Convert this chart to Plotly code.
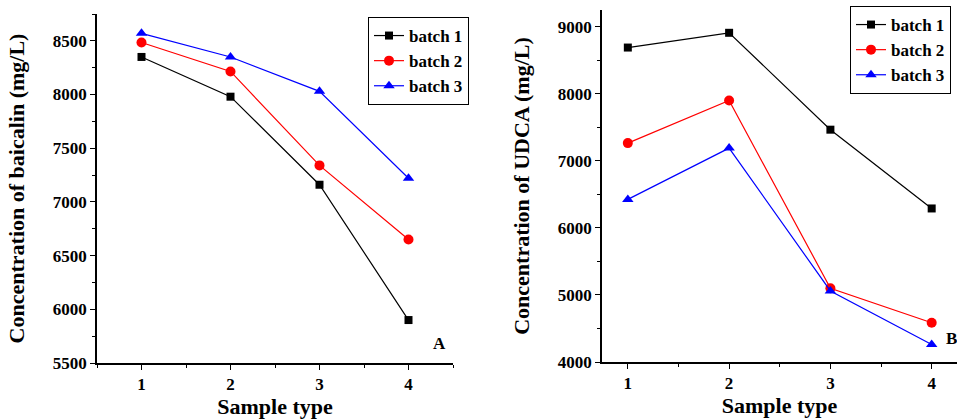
import plotly.graph_objects as go

sample_type = [1, 2, 3, 4]
series_names = ["batch 1", "batch 2", "batch 3"]
baicalin_b1 = [8350, 7980, 7160, 5900]
baicalin_b2 = [8485, 8215, 7340, 6650]
baicalin_b3 = [8570, 8350, 8030, 7220]
udca_b1 = [8690, 8910, 7465, 6290]
udca_b2 = [7265, 7900, 5100, 4585]
udca_b3 = [6425, 7190, 5060, 4260]

colors = ["#000000", "#FF0000", "#0000FF"]
symbols = ["square", "circle", "triangle-up"]
sizes = [8, 10, 10]
FONT = "Liberation Serif"

fig = go.Figure()
for i, ys in enumerate([baicalin_b1, baicalin_b2, baicalin_b3]):
    fig.add_trace(go.Scatter(x=sample_type, y=ys, mode="lines+markers", name=series_names[i],
                             line=dict(color=colors[i], width=1.2),
                             marker=dict(symbol=symbols[i], size=sizes[i], color=colors[i]),
                             xaxis="x", yaxis="y", legend="legend"))
for i, ys in enumerate([udca_b1, udca_b2, udca_b3]):
    fig.add_trace(go.Scatter(x=sample_type, y=ys, mode="lines+markers", name=series_names[i],
                             line=dict(color=colors[i], width=1.2),
                             marker=dict(symbol=symbols[i], size=sizes[i], color=colors[i]),
                             xaxis="x2", yaxis="y2", legend="legend2"))

W, H = 957, 419
tickfont = dict(family=FONT, size=17, color="black", weight="bold")
titlefont = dict(family=FONT, size=22, color="black", weight="bold")

def xax(domain, rng, anchor):
    return dict(domain=domain, range=rng, anchor=anchor, automargin=False, showline=True, linecolor="black",
                linewidth=1.5, ticks="outside", ticklen=5, tickwidth=1.2, tickcolor="black", dtick=1, tick0=1,
                minor=dict(ticks="outside", ticklen=3, tickwidth=1, tickcolor="black", dtick=0.5, tick0=0.5),
                showgrid=False, zeroline=False, tickfont=tickfont,
                title=dict(text="Sample type", font=titlefont, standoff=3))

def yax(domain, rng, dtick, mdtick, title, anchor):
    return dict(domain=domain, range=rng, anchor=anchor, automargin=False, showline=True, linecolor="black",
                linewidth=1.5, ticks="outside", ticklen=5, tickwidth=1.2, tickcolor="black", dtick=dtick,
                minor=dict(ticks="outside", ticklen=3, tickwidth=1, tickcolor="black", dtick=mdtick),
                showgrid=False, zeroline=False, tickfont=tickfont,
                title=dict(text=title, font=titlefont, standoff=22))

ly = [1 - 363 / H, 1 - 14 / H]
ry = [1 - 362 / H, 1 - 10 / H]
fig.update_layout(
    template="none",
    width=W, height=H, autosize=False, margin=dict(l=0, r=0, t=0, b=0, pad=0),
    paper_bgcolor="white", plot_bgcolor="white",
    font=dict(family=FONT, color="black"),
    showlegend=True,
    xaxis=xax([97 / W, 453 / W], [0.5, 4.5], "y"),
    xaxis2=xax([602 / W, 1.0], [0.745, 4.25], "y2"),
    yaxis=yax(ly, [5500, 8750], 500, 250, "Concentration of baicalin (mg/L)", "x"),
    yaxis2=yax(ry, [4000, 9250], 1000, 500, "Concentration of UDCA (mg/L)", "x2"),
)

legfont = dict(family=FONT, size=17, color="black", weight="bold")
fig.update_layout(
    legend=dict(x=368 / W, y=1 - 17 / H, xanchor="left", yanchor="top", bordercolor="black", borderwidth=1,
                bgcolor="white", font=legfont, tracegroupgap=0, itemwidth=30),
    legend2=dict(x=850 / W, y=1 - 6 / H, xanchor="left", yanchor="top", bordercolor="black", borderwidth=1,
                 bgcolor="white", font=legfont, tracegroupgap=0, itemwidth=30),
)

fig.add_annotation(text="A", x=439 / W, y=1 - 343 / H, xref="paper", yref="paper", yanchor="middle",
                   showarrow=False, font=dict(family=FONT, size=17, color="black", weight="bold"))
fig.add_annotation(text="B", x=944 / W, y=1 - 338 / H, xref="paper", yref="paper", xanchor="left",
                   yanchor="middle", showarrow=False, font=dict(family=FONT, size=17, color="black", weight="bold"))

fig.write_html("out.html", config={"displayModeBar": False, "responsive": False},
               post_script="document.body.style.margin='0';document.body.style.padding='0';document.body.style.overflow='hidden';")
